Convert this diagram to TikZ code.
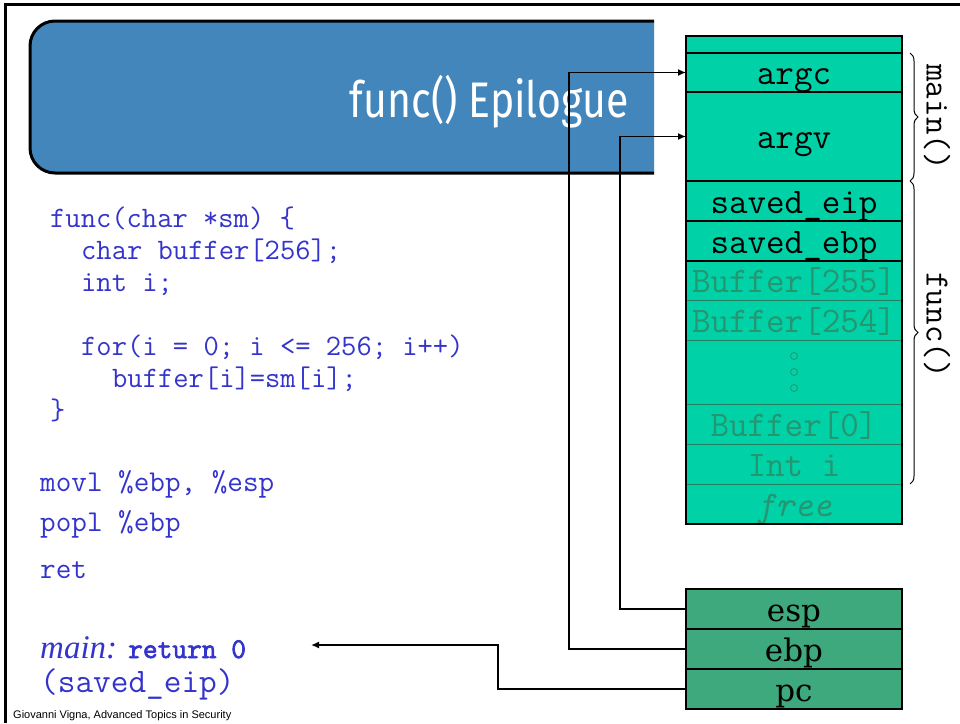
\documentclass[tikz,border=0pt]{standalone}
\usepackage{fontspec}
\setmainfont{Liberation Serif}
\newfontfamily\titlefont[FakeStretch=0.82]{Fira Sans}
\newfontfamily\regfont{DejaVu Serif}
\newfontfamily\footfont{Liberation Sans}
\newfontfamily\retfont[FakeBold=2.5]{Latin Modern Mono}
\usetikzlibrary{arrows.meta,positioning,decorations.pathreplacing}

\definecolor{titleblue}{RGB}{67,134,188}
\definecolor{stackgreen}{RGB}{0,209,167}
\definecolor{reggreen}{RGB}{61,169,124}
\definecolor{fadedtext}{RGB}{38,150,112}
\definecolor{codeblue}{RGB}{52,52,204}

\tikzset{
  cell/.style={rectangle, minimum width=216pt, inner sep=0pt, outer sep=0pt,
    fill=stackgreen, text height=24pt, text depth=0pt,
    font=\fontsize{36}{36}\selectfont\ttfamily},
  faded/.style={text=fadedtext},
  reg/.style={cell, fill=reggreen, minimum height=40pt,
    font=\fontsize{31}{31}\regfont},
  sepline/.style={line width=1.5pt},
  fadeline/.style={line width=1pt, draw=fadedtext!85!black},
  link/.style={line width=1.5pt, -{Latex[length=8pt,width=7pt]}},
  code/.style={anchor=base west, inner sep=0pt, text=codeblue,
    font=\fontsize{29.7}{29.7}\selectfont\ttfamily},
  bracelbl/.style={rotate=-90, inner sep=0pt, font=\fontsize{34}{34}\selectfont\ttfamily}
}

\begin{document}
\begin{tikzpicture}[x=1pt, y=-1pt]
  \useasboundingbox (0,0) rectangle (960,723);

  % slide frame and title bar
  \draw[line width=3pt] (5,723) -- (5,4.5) -- (960,4.5);
  \draw[line width=3pt, fill=titleblue, rounded corners=25pt]
    (654,21) -- (30,21) -- (30,173) -- (654,173);
  \node[anchor=base east, inner sep=0pt, text=white,
    font=\fontsize{50}{50}\titlefont] (title) at (629,117) {func() Epilogue};

  % the stack
  \node[cell, text height=0pt, minimum height=17pt] (top) at (794,44.5) {};
  \node[cell, minimum height=39pt, below=0pt of top] (argc) {argc};
  \node[cell, minimum height=89pt, below=0pt of argc] (argv) {argv};
  \node[cell, minimum height=40pt, below=0pt of argv] (savedeip) {saved\_eip};
  \node[cell, minimum height=40pt, below=0pt of savedeip] (savedebp) {saved\_ebp};
  \node[cell, faded, minimum height=39pt, below=0pt of savedebp] (b255) {Buffer[255]};
  \node[cell, faded, minimum height=40pt, below=0pt of b255] (b254) {Buffer[254]};
  \node[cell, text height=0pt, minimum height=64pt, below=0pt of b254] (dots) {};
  \node[cell, faded, minimum height=40pt, below=0pt of dots] (b0) {Buffer[0]};
  \node[cell, faded, minimum height=40pt, below=0pt of b0] (inti) {Int i};
  \node[cell, faded, minimum height=40pt, below=0pt of inti] (free) {\itshape free};

  \foreach \dy in {-16,0,16}
    \draw[fadedtext, line width=0.8pt] ([yshift=\dy pt]dots.center) circle (3.5pt);

  \foreach \r in {b255,b254,dots,b0,inti}
    \draw[fadeline] (\r.south west) -- (\r.south east);
  \foreach \r in {top,argc,argv,savedeip,savedebp}
    \draw[sepline] (\r.south west) -- (\r.south east);
  \draw[line width=2pt] (top.north west) rectangle (free.south east);

  % frames
  \draw[decorate, decoration={brace, amplitude=8pt}, line width=1pt]
    ([xshift=8pt]argc.north east) -- ([xshift=8pt]argv.south east);
  \draw[decorate, decoration={brace, amplitude=8pt}, line width=1pt]
    ([xshift=8pt]savedeip.north east) -- ([xshift=8pt]inti.south east);
  \node[bracelbl] (mainlbl) at (937,117) {main()};
  \node[bracelbl] (funclbl) at (937,325) {func()};

  % registers
  \node[reg] (esp) at (794,609) {esp};
  \node[reg, below=0pt of esp] (ebp) {ebp};
  \node[reg, below=0pt of ebp] (pc) {pc};
  \draw[sepline] (esp.south west) -- (esp.south east);
  \draw[sepline] (ebp.south west) -- (ebp.south east);
  \draw[line width=2pt] (esp.north west) rectangle (pc.south east);

  % source code
  \node[code] (l1) at (50,227) {func(char *sm) \{};
  \node[code] (l2) at (81,259) {char buffer[256];};
  \node[code] (l3) at (81,291) {int i;};
  \node[code] (l4) at (81,355) {for(i = 0; i <= 256; i++)};
  \node[code] (l5) at (112,387) {buffer[i]=sm[i];};
  \node[code] (l6) at (50,419) {\}};

  \node[code, font=\fontsize{30.3}{30.3}\selectfont\ttfamily] (movl) at (40,491) {movl \%ebp, \%esp};
  \node[code, font=\fontsize{30.3}{30.3}\selectfont\ttfamily] (popl) at (40,531) {popl \%ebp};
  \node[code, font=\fontsize{30.3}{30.3}\selectfont\ttfamily] (ret) at (40,578) {ret};

  \node[code, font=\fontsize{33}{33}\selectfont\itshape] (mainret) at (40,658)
    {main: {\upshape\fontsize{28.6}{28.6}\retfont return 0}};
  \node[code, font=\fontsize{34.3}{34.3}\selectfont\ttfamily] (savedtxt) at (40,692) {(saved\_eip)};
  \coordinate (retpt) at (311,645);

  % pointers
  \draw[link] (esp.west) -- ++(-66,0) |- (argv.west);
  \draw[link] (ebp.west) -- ++(-117,0) |- (argc.west);
  \draw[link] (pc.west) -- ++(-188,0) |- (retpt);

  \node[anchor=base west, inner sep=0pt, font=\fontsize{11}{11}\footfont] (foot)
    at (13,718) {Giovanni Vigna, Advanced Topics in Security};
\end{tikzpicture}
\end{document}
